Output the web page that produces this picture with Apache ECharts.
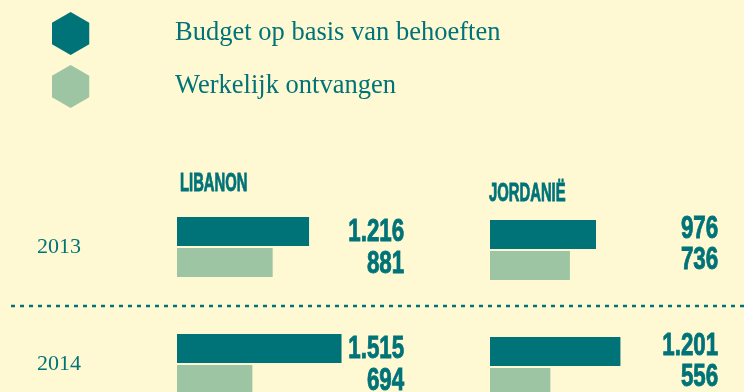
<!DOCTYPE html>
<html>
<head>
<meta charset="utf-8">
<title>Budget en ontvangen</title>
<script src="https://cdn.jsdelivr.net/npm/echarts@6/dist/echarts.min.js"></script>
<style>
  html, body { margin: 0; padding: 0; background: #fff9d3; }
  #chart { width: 744px; height: 392px; }
</style>
</head>
<body>
<div id="chart"></div>
<script>
// Years shown as rows
const years = ['2013', '2014'];
// Country panel headers
const countries = ['LIBANON', 'JORDANIË'];
// Series names
const seriesNames = ['Budget op basis van behoeften', 'Werkelijk ontvangen'];
// Values per country (in millions)
const budgetLibanon = [1216, 1515];
const receivedLibanon = [881, 694];
const budgetJordanie = [976, 1201];
const receivedJordanie = [736, 556];

const TEAL = '#007378';
const SAGE = '#9dc5a3';
const BG = '#fff9d3';
const AXIS_MAX = 2000;
// Condensed display look: a bold sans squeezed horizontally
const BOLD_SANS = "'Liberation Sans', Arial, sans-serif";
const SERIF = "'Liberation Serif', 'DejaVu Serif', serif";
const HEX = 'path://M50,0 L93.3,25 L93.3,75 L50,100 L6.7,75 L6.7,25 Z';

// Dutch thousands separator
function fmt(v) {
  return String(v).replace(/\B(?=(\d{3})+(?!\d))/g, '.');
}

// Right-aligned value column next to each panel
function valueLabels(budget, received, dx, dyTop, dyBottom) {
  return function (params, api) {
    const idx = api.value(0);
    const p = api.coord([AXIS_MAX, idx]);
    const base = {
      align: 'right', verticalAlign: 'middle', fontFamily: BOLD_SANS, fontWeight: 'bold',
      fontSize: 31, fill: TEAL, stroke: TEAL, lineWidth: 0.9
    };
    return {
      type: 'group',
      children: [
        { type: 'text', x: p[0] + dx, y: p[1] + dyTop, scaleX: 0.72, style: Object.assign({ text: fmt(budget[idx]) }, base) },
        { type: 'text', x: p[0] + dx, y: p[1] + dyBottom, scaleX: 0.72, style: Object.assign({ text: fmt(received[idx]) }, base) }
      ]
    };
  };
}

function barSeries(name, data, color, gridIdx) {
  return {
    name: name,
    type: 'bar',
    xAxisIndex: gridIdx,
    yAxisIndex: gridIdx,
    data: data,
    barWidth: 29,
    barGap: '7%',
    itemStyle: { color: color },
    silent: true
  };
}

function header(text, x, y) {
  return {
    type: 'text', x: x, y: y, scaleX: 0.57, silent: true,
    style: {
      text: text, align: 'left', verticalAlign: 'middle', fontFamily: BOLD_SANS, fontWeight: 'bold',
      fontSize: 26, fill: TEAL, stroke: TEAL, lineWidth: 0.9
    }
  };
}

const chart = echarts.init(document.getElementById('chart'), null, { renderer: 'canvas' });

chart.setOption({
  backgroundColor: BG,
  animation: false,
  legend: {
    data: seriesNames,
    orient: 'vertical',
    left: 52,
    top: 12,
    padding: 0,
    itemWidth: 39,
    itemHeight: 43,
    itemGap: 10,
    icon: HEX,
    selectedMode: false,
    textStyle: { fontFamily: SERIF, fontSize: 26.5, color: TEAL, padding: [0, 0, 0, 80] }
  },
  grid: [
    { left: 177, top: 188.5, width: 217.2, height: 234, outerBoundsMode: 'none' },
    { left: 490, top: 191.5, width: 217.2, height: 234, outerBoundsMode: 'none' }
  ],
  xAxis: [0, 1].map(i => ({
    type: 'value', gridIndex: i, min: 0, max: AXIS_MAX, show: false
  })),
  yAxis: [0, 1].map(i => ({
    type: 'category', gridIndex: i, data: years, inverse: true,
    axisLine: { show: false }, axisTick: { show: false }, splitLine: { show: false },
    axisLabel: {
      show: i === 0, align: 'left', margin: 140,
      fontFamily: SERIF, fontSize: 22, color: TEAL
    }
  })),
  graphic: [
    header(countries[0], 180, 184),
    header(countries[1], 489, 194),
    { type: 'line', shape: { x1: 11, y1: 306, x2: 744, y2: 306 },
      style: { stroke: TEAL, lineWidth: 2.5, lineDash: [4, 5] }, silent: true }
  ],
  series: [
    barSeries(seriesNames[0], budgetLibanon, TEAL, 0),
    barSeries(seriesNames[1], receivedLibanon, SAGE, 0),
    barSeries(seriesNames[0], budgetJordanie, TEAL, 1),
    barSeries(seriesNames[1], receivedJordanie, SAGE, 1),
    {
      type: 'custom', xAxisIndex: 0, yAxisIndex: 0, silent: true, clip: false,
      data: years.map((y, i) => [i]), encode: { y: 0 },
      renderItem: valueLabels(budgetLibanon, receivedLibanon, 10, -14.5, 17.5)
    },
    {
      type: 'custom', xAxisIndex: 1, yAxisIndex: 1, silent: true, clip: false,
      data: years.map((y, i) => [i]), encode: { y: 0 },
      renderItem: valueLabels(budgetJordanie, receivedJordanie, 11, -21, 10)
    }
  ]
});
</script>
</body>
</html>
